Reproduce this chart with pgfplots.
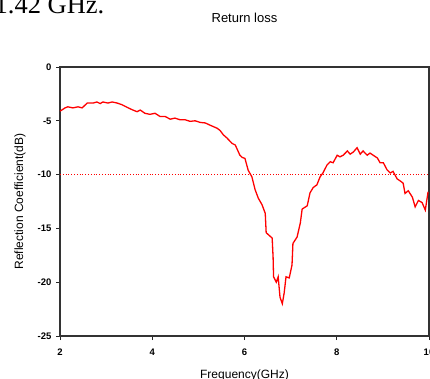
\documentclass[border=0pt]{standalone}
\usepackage{pgfplots}
\pgfplotsset{compat=1.18}
\usepackage{fontspec}
\setmainfont{Liberation Sans}
\newfontfamily\serifdoc{Liberation Serif}

\begin{document}
\begin{tikzpicture}[x=1pt,y=1pt]
\node[anchor=base west, inner sep=0pt, font=\serifdoc\fontsize{26.5}{30}\selectfont] at (-5.5,364) {1.42 GHz.};
\begin{axis}[
  at={(60pt,42pt)}, anchor=south west,
  scale only axis, width=369pt, height=269pt,
  xmin=2, xmax=10, ymin=-25, ymax=0,
  xtick={2,4,6,8,10}, ytick={-25,-20,-15,-10,-5,0},
  tick align=outside, xtick pos=bottom, ytick pos=left,
  major tick length=4pt,
  major tick style={black!85, line width=1pt},
  axis line style={black!80, line width=1.2pt},
  ticklabel style={font=\bfseries\fontsize{9.5}{11}\selectfont},
  xticklabel style={yshift=-5pt},
  yticklabel style={xshift=-1pt},
  /pgf/number format/assume math mode=true,
  title={Return loss},
  title style={font=\fontsize{13}{15}\selectfont, at={(axis description cs:0.5,1)}, anchor=center, yshift=43pt},
  xlabel={Frequency(GHz)},
  xlabel style={font=\fontsize{12}{14}\selectfont, at={(axis description cs:0.5,-0.145)}, anchor=center},
  ylabel={Reflection Coefficient(dB)},
  ylabel style={font=\fontsize{12}{14}\selectfont, at={(axis description cs:-0.1084,0.5)}, anchor=center, rotate=0},
  clip=false,
]
\addplot[red, line width=1.3pt, mark=none] coordinates {
(2.00,-4.1) (2.04,-4.0) (2.11,-3.8) (2.17,-3.7) (2.28,-3.8) (2.39,-3.7) (2.48,-3.8)
(2.59,-3.35) (2.72,-3.35) (2.80,-3.25) (2.87,-3.4) (2.93,-3.25) (3.04,-3.35) (3.13,-3.25)
(3.24,-3.35) (3.34,-3.5) (3.48,-3.8) (3.58,-4.0) (3.67,-4.15) (3.74,-4.0) (3.84,-4.3)
(3.95,-4.4) (4.06,-4.3) (4.17,-4.6) (4.28,-4.6) (4.39,-4.85) (4.49,-4.75) (4.60,-4.9)
(4.71,-4.9) (4.82,-5.05) (4.93,-5.0) (5.04,-5.15) (5.15,-5.2) (5.25,-5.4) (5.41,-5.7)
(5.47,-5.9) (5.54,-6.3) (5.62,-6.6) (5.73,-7.1) (5.80,-7.25) (5.90,-8.2) (5.95,-8.4)
(6.01,-8.5) (6.08,-9.6) (6.16,-10.2) (6.23,-11.4) (6.30,-12.2) (6.38,-12.8) (6.45,-13.6)
(6.47,-15.4) (6.60,-15.9) (6.62,-17.7) (6.63,-19.5) (6.69,-20.0) (6.73,-19.5) (6.77,-21.4)
(6.82,-22.0) (6.86,-21.0) (6.90,-19.5) (6.97,-19.6) (7.03,-18.4) (7.05,-16.4) (7.14,-15.8)
(7.21,-14.5) (7.25,-13.2) (7.36,-12.9) (7.42,-11.7) (7.49,-11.2) (7.57,-10.95) (7.64,-10.2)
(7.70,-9.85) (7.79,-9.1) (7.86,-8.8) (7.92,-8.9) (8.01,-8.2) (8.07,-8.35) (8.14,-8.2)
(8.23,-7.8) (8.29,-8.1) (8.36,-7.9) (8.44,-7.5) (8.51,-8.1) (8.57,-7.8) (8.66,-8.2)
(8.72,-8.0) (8.79,-8.2) (8.88,-8.45) (8.94,-8.9) (9.01,-8.9) (9.09,-9.55) (9.16,-9.85)
(9.22,-9.7) (9.31,-10.4) (9.38,-10.6) (9.44,-10.8) (9.48,-11.75) (9.55,-11.5) (9.64,-12.1)
(9.70,-13.0) (9.77,-12.4) (9.85,-12.6) (9.92,-13.3) (9.98,-11.6)
};
\addplot[red, line width=0.8pt, dotted, mark=none] coordinates {(2,-10) (10,-10)};
\end{axis}
\pgfresetboundingbox
\useasboundingbox (0,0) rectangle (430,378);
\end{tikzpicture}
\end{document}
